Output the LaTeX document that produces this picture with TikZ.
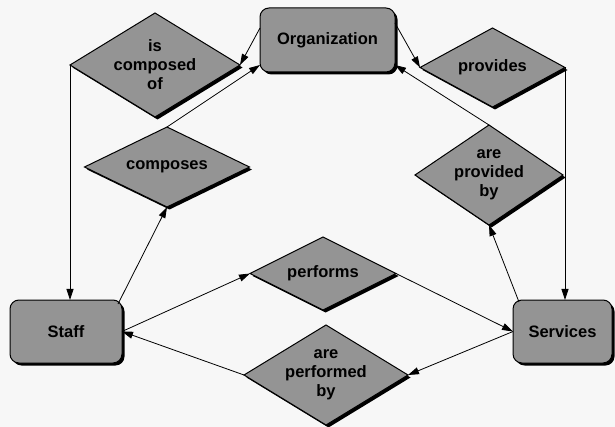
\documentclass[tikz,border=0pt]{standalone}
\usepackage{fontspec}
\setmainfont{Liberation Sans}
\usetikzlibrary{shapes.geometric,shadows,arrows.meta}
\begin{document}
\begin{tikzpicture}[x=1pt,y=-1pt,
  shade/.style={draw=black,line width=1pt,fill=black!42,
    drop shadow={shadow xshift=2.5pt,shadow yshift=-2.5pt,fill=black,opacity=1}},
  ent/.style={shade,rectangle,rounded corners=9pt,inner sep=0pt,outer sep=0pt,
    font=\fontsize{16.5}{19}\selectfont\bfseries},
  rel/.style={shade,diamond,inner sep=0pt,outer sep=0pt},
  txt/.style={font=\fontsize{16.5}{19}\selectfont\bfseries,align=center,inner sep=0pt},
  con/.style={line width=0.8pt,-{Triangle[length=11pt,width=7pt]}}
]
\useasboundingbox[fill=black!3] (0,0) rectangle (615,427);

\node[ent,minimum width=135pt,minimum height=64pt] (org) at (327.5,40) {Organization};
\node[ent,minimum width=112pt,minimum height=63pt] (staff) at (66,331.5) {Staff};
\node[ent,minimum width=99pt,minimum height=63pt] (serv) at (562.5,331.5) {Services};

\node[rel,minimum width=170pt,minimum height=104pt,label={[txt]center:is\\composed\\of}] (isc) at (155,65) {};
\node[rel,minimum width=165pt,minimum height=80pt,label={[txt]center:composes}] (comp) at (167,167) {};
\node[rel,minimum width=145pt,minimum height=79pt,label={[txt]center:provides}] (prov) at (492.5,67.5) {};
\node[rel,minimum width=148pt,minimum height=100pt,label={[txt]center:are\\provided\\by}] (apb) at (489,175) {};
\node[rel,minimum width=146pt,minimum height=73pt,label={[txt]center:performs}] (perf) at (323,273.5) {};
\node[rel,minimum width=164pt,minimum height=100pt,label={[txt]center:are\\performed\\by}] (apf) at (326,375) {};

\draw[con] ([xshift=-4pt,yshift=-4pt]staff.north east) -- (comp.south);
\draw[con] (comp.north) -- ([yshift=-25pt]org.west);
\draw[con] ([yshift=12pt]org.west) -- (isc.east);
\draw[con] (isc.west) -- (isc.west |- staff.north);
\draw[con] ([yshift=17pt]org.east) -- (prov.west);
\draw[con] (prov.east) -- (prov.east |- serv.north);
\draw[con] ([xshift=6pt,yshift=-2pt]serv.north west) -- (apb.south);
\draw[con] (apb.north) -- ([yshift=-25pt]org.east);
\draw[con] (staff.east) -- (perf.west);
\draw[con] (perf.east) -- (serv.west);
\draw[con] (serv.west) -- (apf.east);
\draw[con] (apf.west) -- (staff.east);
\end{tikzpicture}
\end{document}
